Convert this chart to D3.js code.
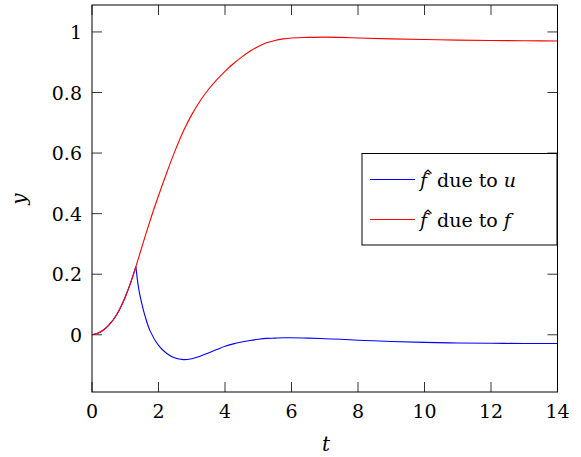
<!DOCTYPE html>
<html><head><meta charset="utf-8">
<script src="https://cdn.jsdelivr.net/npm/d3@7"></script>
<style>body{margin:0;background:#fff}svg{display:block}</style>
</head><body><svg id="c" width="581" height="457"></svg>
<script>
const tValues = [0,0.25,0.5,0.75,1.0,1.15,1.32,1.4,1.5,1.6,1.75,2.0,2.25,2.5,2.75,3.0,3.25,3.5,3.75,4.0,4.25,4.5,4.75,5.0,5.25,5.5,5.75,6.0,6.5,7.0,7.5,8,9,10,11,12,13,14];
const dueToF = [0,0.009,0.031,0.068,0.125,0.168,0.225,0.254,0.290,0.326,0.378,0.459,0.536,0.608,0.673,0.727,0.772,0.810,0.842,0.870,0.895,0.917,0.936,0.952,0.964,0.972,0.977,0.980,0.982,0.983,0.982,0.980,0.977,0.975,0.973,0.972,0.971,0.970];
const dueToU = [0,0.009,0.031,0.068,0.125,0.168,0.225,0.155,0.102,0.060,0.012,-0.035,-0.062,-0.077,-0.082,-0.079,-0.071,-0.060,-0.049,-0.038,-0.030,-0.024,-0.019,-0.015,-0.012,-0.011,-0.010,-0.010,-0.011,-0.013,-0.015,-0.018,-0.022,-0.025,-0.027,-0.028,-0.029,-0.029];
const xTicks = [0,2,4,6,8,10,12,14];
const yTicks = [0,0.2,0.4,0.6,0.8,1];
const seriesNames = ["u","f"];

const svg = d3.select("#c");
const L=92, R=557.5, T=5, B=392;
const x = d3.scaleLinear().domain([0,14]).range([L,R]);
const y = d3.scaleLinear().domain([-0.189,1.089]).range([B,T]);
const font = "'DejaVu Serif', serif";

// ticks
const tk = svg.append("g").attr("stroke","#000").attr("stroke-width",0.8);
xTicks.forEach(v=>{
  tk.append("line").attr("x1",x(v)).attr("x2",x(v)).attr("y1",B).attr("y2",B-10);
  tk.append("line").attr("x1",x(v)).attr("x2",x(v)).attr("y1",T).attr("y2",T+10);
});
yTicks.forEach(v=>{
  tk.append("line").attr("y1",y(v)).attr("y2",y(v)).attr("x1",L).attr("x2",L+10);
  tk.append("line").attr("y1",y(v)).attr("y2",y(v)).attr("x1",R).attr("x2",R-10);
});

// curves
const pts = arr => arr.map((v,i)=>[tValues[i],v]);
const line = d3.line().x(d=>x(d[0])).y(d=>y(d[1])).curve(d3.curveMonotoneX);
let k = dueToU.findIndex((v,i)=>v!==dueToF[i]) - 1; // last shared point (kink)
svg.append("defs").append("clipPath").attr("id","cp").append("rect").attr("x",L).attr("y",T).attr("width",R-L).attr("height",B-T);
const g = svg.append("g").attr("clip-path","url(#cp)");
const uPts = pts(dueToU);
const fPts = pts(dueToF);
g.append("path").datum(uPts.slice(0,k+1)).attr("d",line).attr("fill","none").attr("stroke","#0000ff").attr("stroke-width",1.1);
g.append("path").datum(uPts.slice(k)).attr("d",line.curve(d3.curveCatmullRom.alpha(0.5))).attr("fill","none").attr("stroke","#0000ff").attr("stroke-width",1.1);
line.curve(d3.curveMonotoneX);
g.append("path").datum(fPts).attr("d",line).attr("fill","none").attr("stroke","#ff0000").attr("stroke-width",1.1);

// frame
svg.append("rect").attr("x",L).attr("y",T).attr("width",R-L).attr("height",B-T).attr("fill","none").attr("stroke","#000").attr("stroke-width",1);

// tick labels
svg.append("g").selectAll("text").data(xTicks).join("text")
  .attr("x",d=>x(d)).attr("y",418).attr("text-anchor","middle")
  .attr("font-family",font).attr("font-size",19).text(d=>d);
svg.append("g").selectAll("text").data(yTicks).join("text")
  .attr("x",82).attr("y",d=>y(d)+7).attr("text-anchor","end")
  .attr("font-family",font).attr("font-size",19).text(d=>d);

// axis labels
svg.append("text").attr("x",326).attr("y",451).attr("text-anchor","middle")
  .attr("font-family",font).attr("font-style","italic").attr("font-size",20).text("t");
svg.append("text").attr("transform","translate(26,199) rotate(-90)").attr("text-anchor","middle")
  .attr("font-family",font).attr("font-style","italic").attr("font-size",20).text("y");

// legend
const lg = svg.append("g");
lg.append("rect").attr("x",362).attr("y",153.5).attr("width",195).attr("height",91.5).attr("fill","#fff").attr("stroke","#000").attr("stroke-width",1);
const colors=["#0000ff","#ff0000"];
seriesNames.forEach((s,i)=>{
  const cy = 179.5 + i*40;
  lg.append("line").attr("x1",370).attr("x2",415).attr("y1",cy).attr("y2",cy).attr("stroke",colors[i]).attr("stroke-width",1.2);
  const by = cy+7;
  lg.append("text").attr("x",420).attr("y",by).attr("font-family",font).attr("font-size",19).attr("font-style","italic").text("f");
  lg.append("path").attr("d",`M${424.5},${by-13} L${428},${by-16.5} L${431.5},${by-13}`).attr("fill","none").attr("stroke","#000").attr("stroke-width",1.1);
  const t = lg.append("text").attr("x",437).attr("y",by).attr("font-family",font).attr("font-size",19);
  t.append("tspan").text("due to ");
  t.append("tspan").attr("font-style","italic").text(s);
});
</script></body></html>
